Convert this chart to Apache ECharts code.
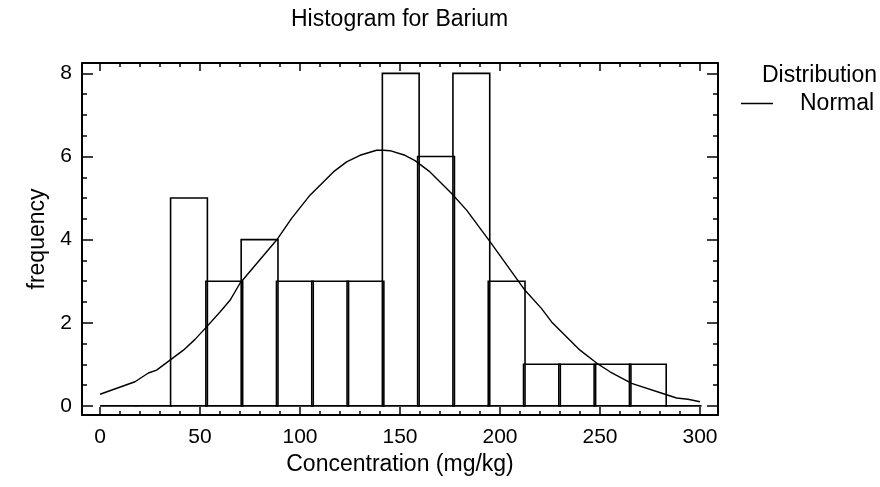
<!DOCTYPE html>
<html>
<head>
<meta charset="utf-8">
<script src="https://cdn.jsdelivr.net/npm/echarts@6/dist/echarts.min.js"></script>
<style>
  html, body { margin: 0; padding: 0; background: #fff; }
  #hist { width: 880px; height: 487px; }
</style>
</head>
<body>
<div id="hist"></div>
<script>
// bins of the histogram (mg/kg) and their counts
var binStart = [0, 17.65, 35.29, 52.94, 70.59, 88.24, 105.88, 123.53, 141.18, 158.82, 176.47, 194.12, 211.76, 229.41, 247.06, 264.71, 282.35];
var binEnd   = [17.65, 35.29, 52.94, 70.59, 88.24, 105.88, 123.53, 141.18, 158.82, 176.47, 194.12, 211.76, 229.41, 247.06, 264.71, 282.35, 300];
var counts   = [0, 0, 5, 3, 4, 3, 3, 3, 8, 6, 8, 3, 1, 1, 1, 1, 0];

// fitted normal curve
var curveX = [0, 17.5, 24.2, 28.3, 35, 41.7, 47.5, 53.3, 60, 65, 70, 88.3, 95.8, 105, 116.7, 123.3, 130, 138.3, 141.7, 145,
              152.5, 157.5, 165, 175.8, 183.3, 195, 212.5, 220.8, 225.8, 240, 248.3, 255, 265.8, 282.5, 288.3, 294, 300];
var curveY = [0.28, 0.58, 0.79, 0.86, 1.10, 1.34, 1.60, 1.90, 2.26, 2.54, 2.95, 3.99, 4.51, 5.07, 5.63, 5.87, 6.03, 6.15, 6.15, 6.14,
              6.03, 5.90, 5.63, 5.11, 4.71, 3.95, 2.78, 2.34, 2.02, 1.34, 1.03, 0.82, 0.54, 0.28, 0.19, 0.16, 0.10];

// tick labels
var xTicks = [0, 50, 100, 150, 200, 250, 300];
var yTicks = [0, 2, 4, 6, 8];
var xMinor = [10, 20, 30, 40, 60, 70, 80, 90, 110, 120, 130, 140, 160, 170, 180, 190, 210, 220, 230, 240, 260, 270, 280, 290];
var yMinor = [0.5, 1, 1.5, 2.5, 3, 3.5, 4.5, 5, 5.5, 6.5, 7, 7.5];

var font = 'Liberation Sans, Arial, sans-serif';
var xMin = -9, xMax = 309, yMin = -0.22, yMax = 8.25;

var chart = echarts.init(document.getElementById('hist'), null, {renderer: 'canvas'});

function xAxisDef(pos, major, showLabel, showLine) {
    return {
        type: 'value', position: pos, min: xMin, max: xMax,
        name: (pos == 'bottom' && showLabel) ? 'Concentration (mg/kg)' : '',
        nameLocation: 'middle', nameGap: 37,
        nameTextStyle: {fontFamily: font, fontSize: 23, color: '#000'},
        axisLine: {show: showLine, onZero: false, lineStyle: {color: '#000', width: 2}},
        axisTick: {show: true, inside: true, length: major ? 8 : 4,
            customValues: major ? xTicks : xMinor, lineStyle: {color: '#000', width: 1.5}},
        axisLabel: {show: showLabel, customValues: xTicks, margin: 12,
            fontFamily: font, fontSize: 21, color: '#000'},
        splitLine: {show: false}
    };
}

function yAxisDef(pos, major, showLabel, showLine) {
    return {
        type: 'value', position: pos, min: yMin, max: yMax,
        name: (pos == 'left' && showLabel) ? 'frequency' : '',
        nameLocation: 'middle', nameGap: 21, nameRotate: 90,
        nameTextStyle: {fontFamily: font, fontSize: 23, color: '#000'},
        axisLine: {show: showLine, onZero: false, lineStyle: {color: '#000', width: 2}},
        axisTick: {show: true, inside: true, length: major ? 11 : 5,
            customValues: major ? yTicks : yMinor, lineStyle: {color: '#000', width: 1.5}},
        axisLabel: {show: showLabel, customValues: yTicks, margin: 10,
            fontFamily: font, fontSize: 21, color: '#000'},
        splitLine: {show: false}
    };
}

var bins = [];
for (var i = 0; i < counts.length; i++) {
    bins.push([binStart[i], binEnd[i], counts[i]]);
}
var curve = [];
for (var j = 0; j < curveX.length; j++) {
    curve.push([curveX[j], curveY[j]]);
}

var option = {
    backgroundColor: '#fff',
    animation: false,
    title: [
        {text: 'Histogram for Barium', left: 286, top: 3,
            textStyle: {fontFamily: font, fontSize: 23, fontWeight: 'normal', color: '#000'}},
        {text: 'Distribution', left: 757, top: 59,
            textStyle: {fontFamily: font, fontSize: 23, fontWeight: 'normal', color: '#000'}}
    ],
    legend: {
        left: 736, top: 87, orient: 'vertical',
        data: [{name: 'Normal', icon: 'rect'}],
        itemWidth: 32, itemHeight: 1.5,
        itemStyle: {color: '#000'},
        textStyle: {fontFamily: font, fontSize: 23, color: '#000', padding: [0, 0, 0, 22]}
    },
    grid: {left: 82, right: 162, top: 63, bottom: 72},
    xAxis: [
        xAxisDef('bottom', true, true, true),
        xAxisDef('bottom', false, false, false),
        xAxisDef('top', true, false, true),
        xAxisDef('top', false, false, false)
    ],
    yAxis: [
        yAxisDef('left', true, true, true),
        yAxisDef('left', false, false, false),
        yAxisDef('right', true, false, true),
        yAxisDef('right', false, false, false)
    ],
    series: [
        {
            name: 'Histogram',
            type: 'custom',
            xAxisIndex: 0, yAxisIndex: 0,
            data: bins,
            renderItem: function (params, api) {
                var p0 = api.coord([api.value(0), api.value(2)]);
                var p1 = api.coord([api.value(1), 0]);
                // draw each bin 1.5px wider so shared edges come out heavy, as in the original
                return {
                    type: 'rect',
                    shape: {x: p0[0], y: p0[1], width: p1[0] - p0[0] + 1.5, height: p1[1] - p0[1]},
                    style: {fill: 'none', stroke: '#000', lineWidth: 1.6}
                };
            }
        },
        {
            name: 'Normal',
            type: 'line',
            xAxisIndex: 0, yAxisIndex: 0,
            data: curve,
            symbol: 'none',
            lineStyle: {color: '#000', width: 1.4},
            itemStyle: {color: '#000'}
        }
    ]
};

chart.setOption(option);
</script>
</body>
</html>
